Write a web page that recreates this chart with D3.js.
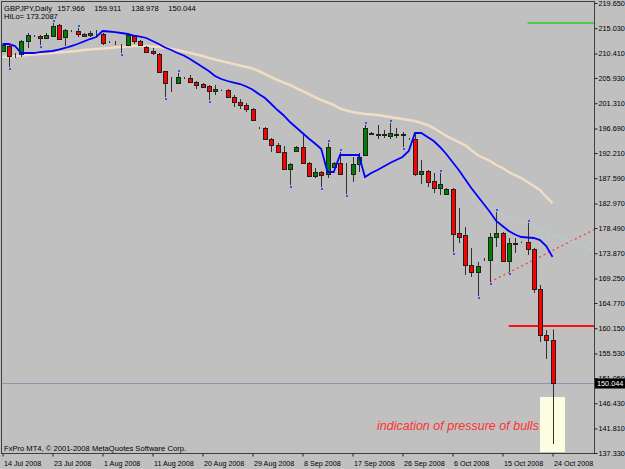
<!DOCTYPE html>
<html>
<head>
<meta charset="utf-8">
<script type="text/javascript" src="https://cdn.jsdelivr.net/npm/d3@7"></script>
<style>
  body { margin: 0; background: #c0c0c0; }
  svg text { font-family: "Liberation Sans", Arial, sans-serif; }
</style>
</head>
<body>
<div id="viz"></div>
<script type="text/javascript">
// GBPJPY daily bars, 14 Jul 2008 .. 24 Oct 2008 (index 0 .. 88, sunday bars included)
var opens = [210.87,211.78,210.32,210.32,212.70,213.61,213.61,213.25,213.61,215.62,
  213.43,214.53,214.53,214.07,213.79,214.16,213.98,212.51,212.33,211.96,
  211.96,213.61,212.70,211.60,210.87,210.32,207.12,205.01,205.01,206.02,
  205.93,205.20,204.83,204.46,203.55,203.73,203.73,202.45,201.63,200.99,
  200.26,196.87,196.78,194.77,193.67,192.39,189.28,192.58,193.31,190.37,
  188.00,188.73,188.37,189.65,190.37,188.73,188.37,190.19,191.84,195.96,
  195.69,195.69,195.32,195.69,195.69,194.86,194.77,188.37,188.92,187.09,
  185.81,184.71,185.62,177.58,177.21,171.72,170.44,172.82,172.64,176.84,
  177.58,172.45,175.75,175.93,175.93,174.65,167.33,158.91,157.966];
var highs = [212.15,211.96,210.50,212.88,214.16,213.79,213.79,214.16,215.99,215.81,
  214.89,214.71,215.08,214.16,214.53,214.71,214.16,212.70,212.70,212.15,
  214.16,213.79,212.88,211.78,211.42,210.50,207.21,206.11,206.84,206.11,
  206.48,205.38,205.01,204.65,204.65,203.82,203.91,202.82,202.09,201.35,
  200.44,196.96,196.96,194.95,194.04,193.49,190.37,193.49,195.50,190.56,
  189.47,188.92,194.04,190.56,192.39,190.37,191.48,192.21,197.33,196.05,
  197.33,196.42,197.70,196.78,196.05,194.95,195.87,190.93,189.10,188.55,
  188.55,185.81,185.81,182.15,178.67,174.83,172.27,173.00,177.58,181.41,
  177.77,176.66,176.66,176.02,179.42,174.83,168.06,159.83,159.911];
var lows = [210.68,207.94,209.59,209.77,211.42,213.43,211.96,213.06,213.43,212.88,
  211.78,214.34,213.43,213.61,213.43,213.43,211.96,212.33,211.96,210.50,
  211.78,212.15,211.78,210.50,210.13,206.84,202.45,203.37,204.83,205.75,
  205.01,203.91,204.10,201.90,202.82,203.55,202.27,200.62,200.26,199.71,
  198.06,196.60,194.59,192.39,192.21,189.10,186.36,192.39,190.19,187.82,
  187.63,185.99,187.63,189.47,188.18,184.71,186.90,188.73,191.66,195.69,
  194.77,194.95,194.77,194.95,193.31,194.59,188.00,186.54,185.99,184.89,
  184.53,184.53,174.10,175.75,169.89,169.53,166.05,172.45,168.61,175.01,
  172.27,170.44,173.92,175.75,173.55,166.60,157.64,154.53,138.978];
var closes = [211.96,209.95,210.23,212.70,213.79,213.52,213.25,213.79,215.44,213.06,
  214.71,214.44,213.98,213.79,214.16,214.07,212.33,212.42,212.24,211.87,
  213.79,212.70,211.96,210.68,210.50,207.03,204.92,204.92,206.11,205.93,
  205.20,204.65,204.28,203.55,203.91,203.64,202.45,201.54,200.99,200.26,
  198.25,196.78,194.77,193.67,192.39,189.28,190.19,193.31,190.37,188.00,
  188.73,188.18,193.31,190.37,188.37,188.64,190.19,191.48,196.78,195.78,
  195.59,195.59,195.87,195.59,195.59,194.77,188.28,188.92,186.90,185.72,
  186.54,185.62,177.39,176.84,171.72,170.44,171.54,172.73,176.84,177.58,
  172.45,175.75,175.65,175.84,174.65,167.33,158.91,158.01,150.044];

// HiLo line (blue) and slow moving average (beige)
var hiloLine = [212.15,212.15,211.78,210.50,210.50,210.50,210.68,210.78,210.87,211.14,
  211.42,211.78,212.15,212.61,213.06,213.43,214.53,214.44,214.34,214.16,
  213.98,213.70,213.52,213.25,212.70,212.15,211.51,211.05,210.50,210.04,
  209.40,208.67,207.94,207.21,206.29,205.75,205.38,205.10,204.83,204.37,
  203.82,203.00,202.27,201.17,200.07,199.07,197.88,196.87,195.87,194.86,
  193.95,192.94,188.73,188.73,191.84,191.84,191.84,191.84,187.82,188.55,
  189.10,189.74,190.37,190.93,191.48,192.58,195.87,195.87,195.14,194.40,
  193.31,192.03,190.56,189.10,187.45,185.81,184.34,182.87,181.41,179.77,
  178.85,177.94,177.30,176.84,176.75,176.66,176.29,175.19,173.21];
var slowMa = [209.77,209.86,209.95,210.04,210.13,210.23,210.32,210.41,210.50,210.59,
  210.68,210.78,210.87,211.05,211.14,211.23,211.32,211.42,211.51,211.60,
  211.69,211.78,211.78,211.78,211.69,211.60,211.42,211.23,211.05,210.78,
  210.50,210.23,209.95,209.59,209.31,209.04,208.76,208.49,208.21,207.94,
  207.67,207.21,206.66,206.11,205.56,205.10,204.65,204.10,203.55,203.00,
  202.45,201.90,201.45,200.99,200.35,199.98,199.71,199.53,199.34,199.25,
  199.16,198.98,198.79,198.61,198.43,198.25,198.06,197.70,197.33,196.78,
  196.05,195.32,194.77,194.22,193.67,192.76,191.84,191.29,190.75,190.01,
  189.47,188.73,188.18,187.63,186.90,186.17,185.44,184.16,183.06];

// fractal marks (bar indices)
var fractalUp = [8, 12, 28, 52, 54, 58, 62, 70, 79, 84];
var fractalDown = [1, 6, 19, 26, 33, 46, 51, 55, 64, 72, 76, 78, 81];

// price axis and time axis labels
var priceTicks = [219.650,215.030,210.410,205.930,201.310,196.690,192.210,187.590,182.970,178.490,
  173.870,169.250,164.770,160.150,155.530,151.050,146.430,141.810,137.330];
var timeTickBars = [0, 8, 16, 24, 32, 40, 48, 56, 64, 72, 80, 88];
var timeTickLabels = ["14 Jul 2008","23 Jul 2008","1 Aug 2008","11 Aug 2008","20 Aug 2008","29 Aug 2008",
  "8 Sep 2008","17 Sep 2008","26 Sep 2008","6 Oct 2008","15 Oct 2008","24 Oct 2008"];

// chart objects
var greenLevel = {bar: 84, price: 216.00};
var redLevel = {bar: 81, price: 160.56};
var bidPrice = 150.044;
var redTrend = [{bar: 78, price: 168.61}, {bar: 88, price: 174.37}];
var cyanTrend = [{bar: 79, price: 181.41}, {bar: 88, price: 177.36}];
var noteBox = [{bar: 86, price: 147.57}, {bar: 90, price: 137.51}];
var noteText = "indication of pressure of bulls";
var hiloValue = "173.2087";

var W = 625, H = 469;
var plotL = 2, plotR = 594, plotT = 2, plotB = 453;

var x = d3.scaleLinear().domain([0, 94.72]).range([2.5, 594.5]);
var y = d3.scaleLinear().domain([137.33, 219.65]).range([453, 3]);

var svg = d3.select("#viz").append("svg")
  .attr("width", W).attr("height", H)
  .style("display", "block");

svg.append("rect").attr("width", W).attr("height", H).attr("fill", "#c0c0c0");

svg.append("defs").append("clipPath").attr("id", "plot")
  .append("rect").attr("x", plotL).attr("y", plotT).attr("width", plotR - plotL).attr("height", plotB - plotT);

var plot = svg.append("g").attr("clip-path", "url(#plot)");

// note rectangle (behind everything)
plot.append("rect")
  .attr("x", x(noteBox[0].bar)).attr("y", y(noteBox[0].price))
  .attr("width", x(noteBox[1].bar) - x(noteBox[0].bar))
  .attr("height", y(noteBox[1].price) - y(noteBox[0].price))
  .attr("fill", "#fdfde2");

// bid line
plot.append("line")
  .attr("x1", plotL).attr("x2", plotR)
  .attr("y1", Math.round(y(bidPrice)) + 0.5).attr("y2", Math.round(y(bidPrice)) + 0.5)
  .attr("stroke", "#8a98ac").attr("stroke-width", 1);

// slow MA
var line = d3.line().x(function(d, i) { return x(i); }).y(function(d) { return y(d); });
plot.append("path").datum(slowMa).attr("d", line)
  .attr("fill", "none").attr("stroke", "#f2dcc4").attr("stroke-width", 2.5);

// trend lines, extended to the right edge
function ray(t) {
  var slope = (t[1].price - t[0].price) / (t[1].bar - t[0].bar);
  var endBar = x.invert(plotR);
  return [t[0].bar, t[0].price, endBar, t[0].price + slope * (endBar - t[0].bar)];
}
[[redTrend, "#ff3a3a"], [cyanTrend, "#a8dcdc"]].forEach(function(d) {
  var r = ray(d[0]);
  plot.append("line")
    .attr("x1", x(r[0])).attr("y1", y(r[1])).attr("x2", x(r[2])).attr("y2", y(r[3]))
    .attr("stroke", d[1]).attr("stroke-width", 1.2).attr("stroke-dasharray", "2,3");
});

// horizontal level lines
plot.append("line")
  .attr("x1", x(greenLevel.bar)).attr("x2", plotR)
  .attr("y1", y(greenLevel.price)).attr("y2", y(greenLevel.price))
  .attr("stroke", "#2ccc2c").attr("stroke-width", 1.5);
plot.append("line")
  .attr("x1", x(redLevel.bar)).attr("x2", plotR)
  .attr("y1", y(redLevel.price)).attr("y2", y(redLevel.price))
  .attr("stroke", "#ff1010").attr("stroke-width", 2);

// candles
var bars = d3.range(opens.length);
var cx = function(i) { return Math.round(x(i)); };

plot.selectAll("line.wick").data(bars).enter().append("line")
  .attr("class", "wick")
  .attr("x1", function(i) { return cx(i) + 0.5; })
  .attr("x2", function(i) { return cx(i) + 0.5; })
  .attr("y1", function(i) { return y(highs[i]); })
  .attr("y2", function(i) { return y(lows[i]); })
  .attr("stroke", "#303030").attr("stroke-width", 1);

plot.selectAll("rect.body").data(bars).enter().append("rect")
  .attr("class", "body")
  .attr("x", function(i) { return cx(i) - 1.5; })
  .attr("y", function(i) { return Math.round(y(Math.max(opens[i], closes[i]))) + 0.5; })
  .attr("width", 4)
  .attr("height", function(i) { return Math.max(0, Math.round(Math.abs(y(opens[i]) - y(closes[i])))); })
  .attr("fill", function(i) { return closes[i] >= opens[i] ? "#008000" : "#ff0000"; })
  .attr("stroke", "#202020").attr("stroke-width", 1);

// fractal dots
plot.selectAll("rect.fup").data(fractalUp).enter().append("rect")
  .attr("class", "fup")
  .attr("x", function(i) { return cx(i); })
  .attr("y", function(i) { return y(highs[i]) - 3; })
  .attr("width", 2).attr("height", 2).attr("fill", "#3355ff");
plot.selectAll("rect.fdn").data(fractalDown).enter().append("rect")
  .attr("class", "fdn")
  .attr("x", function(i) { return cx(i); })
  .attr("y", function(i) { return y(lows[i]) + 1; })
  .attr("width", 2).attr("height", 2).attr("fill", "#3355ff");

// HiLo line
plot.append("path").datum(hiloLine).attr("d", line)
  .attr("fill", "none").attr("stroke", "#0000ff").attr("stroke-width", 1.8);

// note text
plot.append("text")
  .attr("x", 377).attr("y", 430)
  .attr("font-size", 12.5).attr("font-style", "italic")
  .attr("fill", "#ff3030")
  .text(noteText);

// frame
svg.append("rect")
  .attr("x", plotL - 0.5).attr("y", plotT - 0.5)
  .attr("width", plotR - plotL + 1).attr("height", plotB - plotT + 1)
  .attr("fill", "none").attr("stroke", "#404040");

// price axis
var yAxis = d3.axisRight(y).tickValues(priceTicks).tickSize(3).tickPadding(1)
  .tickFormat(d3.format(".3f"));
var gy = svg.append("g").attr("transform", "translate(" + (plotR + 0.5) + ",0)").call(yAxis);
gy.select(".domain").remove();
gy.selectAll("line").attr("stroke", "#202020");
gy.selectAll("text").attr("font-size", 7.3).attr("fill", "#000").attr("font-family", null);

// bid label
svg.append("rect").attr("x", 595).attr("y", y(bidPrice) - 5).attr("width", 30).attr("height", 10).attr("fill", "#000");
svg.append("text").attr("x", 597).attr("y", y(bidPrice) + 2.6)
  .attr("font-size", 7.3).attr("fill", "#fff").text(d3.format(".3f")(bidPrice));

// time axis
var xAxis = d3.axisBottom(x).tickValues(timeTickBars).tickSize(3).tickPadding(4)
  .tickFormat(function(d, i) { return timeTickLabels[i]; });
var gx = svg.append("g").attr("transform", "translate(0," + (plotB + 0.5) + ")").call(xAxis);
gx.select(".domain").remove();
gx.selectAll("line").attr("stroke", "#202020");
gx.selectAll("text").attr("font-size", 7.2).attr("fill", "#000").attr("font-family", null)
  .attr("text-anchor", "start").attr("x", 1);

// header
var header = svg.append("g").attr("font-size", 7.6).attr("fill", "#000");
header.append("text").attr("x", 4).attr("y", 10.5).text("GBPJPY,Daily");
var ohlc = [opens[88], highs[88], lows[88], closes[88]];
header.selectAll("text.v").data(ohlc).enter().append("text")
  .attr("class", "v")
  .attr("x", function(d, i) { return 57.3 + i * 37; }).attr("y", 10.5)
  .text(function(d) { return d3.format(".3f")(d); });
header.append("text").attr("x", 4).attr("y", 19).text("HiLo= " + hiloValue);

// copyright
svg.append("text").attr("x", 4).attr("y", 450.5).attr("font-size", 7.6).attr("fill", "#000")
  .text("FxPro MT4, \u00a9 2001-2008 MetaQuotes Software Corp.");
</script>
</body>
</html>
